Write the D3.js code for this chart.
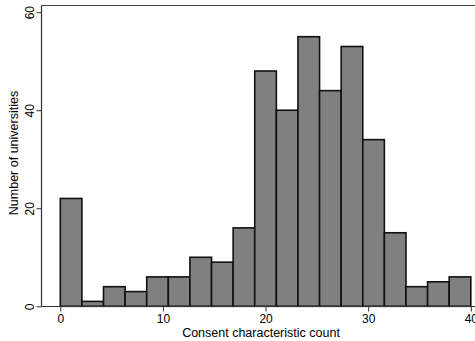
<!DOCTYPE html>
<html>
<head>
<meta charset="utf-8">
<script src="https://cdn.jsdelivr.net/npm/d3@7"></script>
<style>
  body { margin: 0; background: #fff; }
  svg { display: block; }
  text { font-family: "Liberation Sans", Arial, sans-serif; fill: #000; }
</style>
</head>
<body>
<div id="chart"></div>
<script>
// histogram counts, 19 equal bins between 0 and 40
const binStart = 0;
const binEnd = 40;
const counts = [22, 1, 4, 3, 6, 6, 10, 9, 16, 48, 40, 55, 44, 53, 34, 15, 4, 5, 6];
const xTicks = [0, 10, 20, 30, 40];
const yTicks = [0, 20, 40, 60];
const xTitle = "Consent characteristic count";
const yTitle = "Number of universities";

function drawChart() {
    const width = 475, height = 341;

    const svg = d3.select("#chart")
        .append("svg")
        .attr("width", width)
        .attr("height", height);

    const binWidth = (binEnd - binStart) / counts.length;
    const bins = counts.map((c, i) => ({
        x0: binStart + i * binWidth,
        x1: binStart + (i + 1) * binWidth,
        count: c
    }));

    const xScale = d3.scaleLinear()
        .domain([0, 40])
        .range([60.3, 470.8]);

    const yScale = d3.scaleLinear()
        .domain([0, 60])
        .range([306.3, 12.2]);

    const left = 41.5, top = 5.5, bottom = 306.5;

    // frame top line (runs off the right edge)
    svg.append("line")
        .attr("x1", left).attr("x2", width + 5)
        .attr("y1", top).attr("y2", top)
        .attr("stroke", "#444").attr("stroke-width", 1.2);

    // bars
    svg.selectAll("rect.bar")
        .data(bins)
        .enter()
        .append("rect")
        .attr("class", "bar")
        .attr("x", d => xScale(d.x0))
        .attr("y", d => yScale(d.count))
        .attr("width", d => xScale(d.x1) - xScale(d.x0))
        .attr("height", d => yScale(0) - yScale(d.count))
        .attr("fill", "#808080")
        .attr("stroke", "#111")
        .attr("stroke-width", 1.6);

    // y axis
    const yAxis = d3.axisLeft(yScale)
        .tickValues(yTicks)
        .tickSize(5)
        .tickPadding(3)
        .tickFormat(d3.format("d"));

    const gy = svg.append("g")
        .attr("transform", `translate(${left}, 0)`)
        .call(yAxis);
    gy.select(".domain").remove();
    gy.selectAll(".tick line").attr("stroke", "#333");
    gy.selectAll(".tick text")
        .attr("font-size", 12)
        .attr("x", 0)
        .attr("y", 0)
        .attr("dy", "0")
        .attr("text-anchor", "middle")
        .attr("transform", "translate(-8,0) rotate(-90)");

    svg.append("line")
        .attr("x1", left).attr("x2", left)
        .attr("y1", top).attr("y2", bottom)
        .attr("stroke", "#333").attr("stroke-width", 1.2);

    // x axis
    const xAxis = d3.axisBottom(xScale)
        .tickValues(xTicks)
        .tickSize(5)
        .tickPadding(3)
        .tickFormat(d3.format("d"));

    const gx = svg.append("g")
        .attr("transform", `translate(0, ${bottom})`)
        .call(xAxis);
    gx.select(".domain").remove();
    gx.selectAll(".tick line").attr("stroke", "#333");
    gx.selectAll(".tick text").attr("font-size", 12);

    svg.append("line")
        .attr("x1", left).attr("x2", width + 5)
        .attr("y1", bottom).attr("y2", bottom)
        .attr("stroke", "#333").attr("stroke-width", 1.2);

    // titles
    svg.append("text")
        .attr("x", 261)
        .attr("y", 337)
        .attr("text-anchor", "middle")
        .attr("font-size", 12.5)
        .text(xTitle);

    svg.append("text")
        .attr("transform", `translate(17.5, 153) rotate(-90)`)
        .attr("text-anchor", "middle")
        .attr("font-size", 12.5)
        .text(yTitle);
}

drawChart();
</script>
</body>
</html>
